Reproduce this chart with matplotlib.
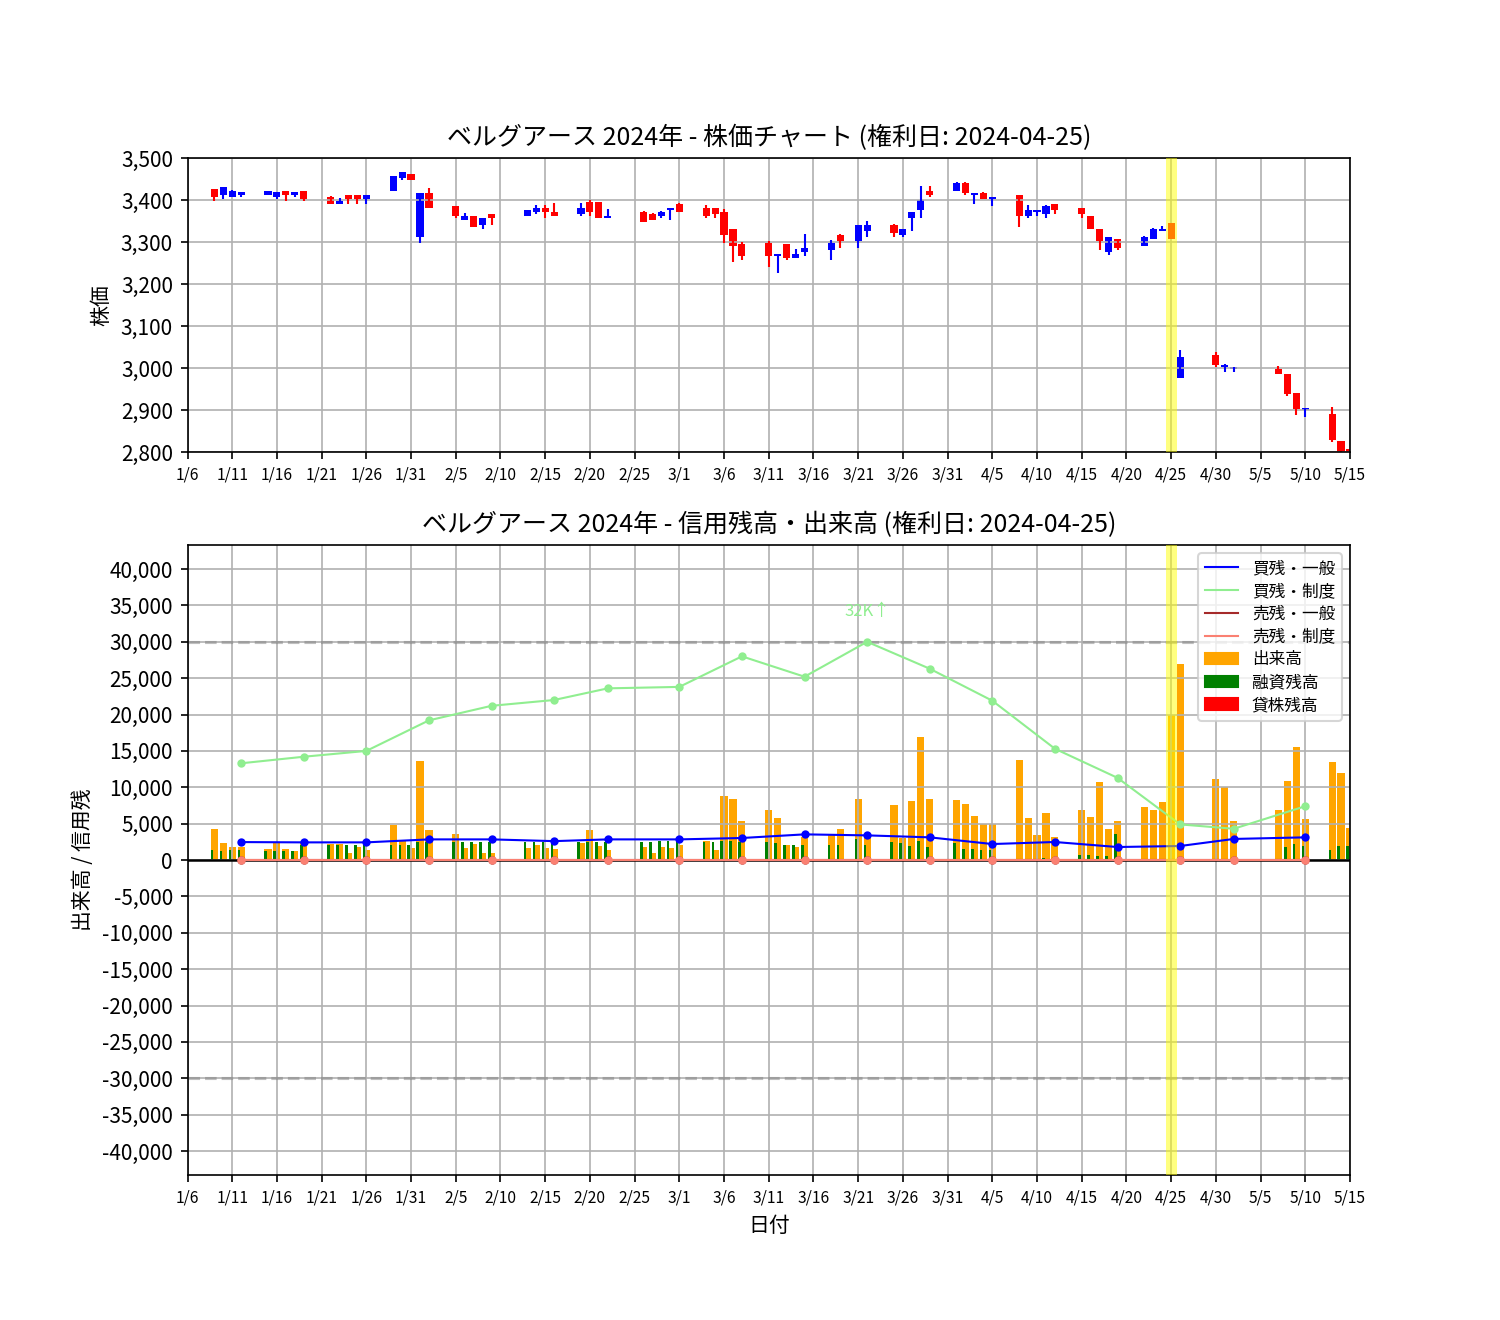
import matplotlib
matplotlib.use("Agg")
import matplotlib.pyplot as plt
import matplotlib.dates as mdates
from matplotlib.lines import Line2D
from matplotlib.patches import Patch
import numpy as np
import pandas as pd

plt.rcParams['font.family'] = ['Noto Sans CJK JP', 'DejaVu Sans']

## Daily data (trading days)
days = ["2024-01-09", "2024-01-10", "2024-01-11", "2024-01-12", "2024-01-15", "2024-01-16", "2024-01-17",
        "2024-01-18", "2024-01-19", "2024-01-22", "2024-01-23", "2024-01-24", "2024-01-25", "2024-01-26",
        "2024-01-29", "2024-01-30", "2024-01-31",
        "2024-02-01", "2024-02-02", "2024-02-05", "2024-02-06", "2024-02-07", "2024-02-08", "2024-02-09",
        "2024-02-13", "2024-02-14", "2024-02-15", "2024-02-16", "2024-02-19", "2024-02-20", "2024-02-21",
        "2024-02-22", "2024-02-26", "2024-02-27", "2024-02-28", "2024-02-29",
        "2024-03-01", "2024-03-04", "2024-03-05", "2024-03-06", "2024-03-07", "2024-03-08", "2024-03-11",
        "2024-03-12", "2024-03-13", "2024-03-14", "2024-03-15", "2024-03-18", "2024-03-19", "2024-03-21",
        "2024-03-22", "2024-03-25", "2024-03-26", "2024-03-27", "2024-03-28", "2024-03-29",
        "2024-04-01", "2024-04-02", "2024-04-03", "2024-04-04", "2024-04-05", "2024-04-08", "2024-04-09",
        "2024-04-10", "2024-04-11", "2024-04-12", "2024-04-15", "2024-04-16", "2024-04-17", "2024-04-18",
        "2024-04-19", "2024-04-22", "2024-04-23", "2024-04-24", "2024-04-25", "2024-04-26", "2024-04-30",
        "2024-05-01", "2024-05-02", "2024-05-07", "2024-05-08", "2024-05-09", "2024-05-10", "2024-05-13",
        "2024-05-14", "2024-05-15"]

opens = [3426, 3413, 3408, 3413, 3413, 3408, 3422, 3413, 3422, 3407, 3391, 3412, 3412, 3402, 3422, 3453, 3462,
         3311, 3417, 3386, 3352, 3362, 3340, 3366, 3362, 3371, 3381, 3371, 3367, 3395, 3395, 3358, 3371, 3367, 3362, 3376,
         3390, 3381, 3381, 3371, 3331, 3295, 3298, 3267, 3295, 3262, 3276, 3281, 3317, 3302, 3326, 3341, 3317, 3357, 3376, 3421,
         3421, 3441, 3412, 3417, 3402, 3412, 3362, 3371, 3366, 3390, 3381, 3362, 3330, 3275, 3306, 3290, 3306, 3326, 3345, 2976, 3030,
         3002, 2998, 2998, 2986, 2940, 2900, 2890, 2826, 2807]
highs = [3426, 3431, 3424, 3419, 3422, 3418, 3422, 3420, 3422, 3410, 3405, 3412, 3412, 3412, 3458, 3467, 3462,
         3417, 3429, 3386, 3369, 3362, 3357, 3366, 3376, 3388, 3388, 3393, 3393, 3400, 3395, 3379, 3374, 3369, 3374, 3381,
         3393, 3388, 3381, 3379, 3331, 3300, 3302, 3271, 3295, 3283, 3319, 3305, 3319, 3341, 3350, 3343, 3331, 3371, 3433, 3433,
         3443, 3443, 3417, 3419, 3407, 3412, 3388, 3376, 3388, 3390, 3381, 3362, 3330, 3311, 3306, 3314, 3333, 3338, 3345, 3042, 3037,
         3010, 3002, 3004, 2986, 2940, 2905, 2906, 2826, 2807]
lows = [3398, 3403, 3408, 3408, 3413, 3403, 3398, 3408, 3398, 3391, 3391, 3391, 3391, 3391, 3422, 3448, 3448,
        3297, 3381, 3357, 3352, 3335, 3330, 3340, 3362, 3366, 3357, 3362, 3363, 3363, 3358, 3358, 3348, 3353, 3358, 3353,
        3371, 3358, 3358, 3298, 3253, 3257, 3241, 3226, 3257, 3262, 3266, 3257, 3286, 3286, 3312, 3312, 3312, 3326, 3357, 3407,
        3421, 3413, 3391, 3402, 3386, 3335, 3357, 3362, 3357, 3366, 3357, 3330, 3280, 3270, 3280, 3290, 3306, 3326, 3306, 2976, 3002,
        2990, 2990, 2986, 2933, 2888, 2883, 2824, 2780, 2770]
closes = [3408, 3431, 3422, 3418, 3422, 3418, 3413, 3418, 3403, 3391, 3398, 3402, 3402, 3412, 3458, 3467, 3448,
          3417, 3381, 3362, 3362, 3335, 3357, 3357, 3376, 3381, 3371, 3362, 3381, 3372, 3358, 3362, 3348, 3353, 3371, 3381,
          3371, 3362, 3367, 3317, 3291, 3267, 3267, 3271, 3262, 3271, 3286, 3298, 3302, 3341, 3341, 3321, 3331, 3371, 3400, 3412,
          3441, 3417, 3417, 3402, 3407, 3362, 3376, 3376, 3386, 3376, 3366, 3330, 3302, 3311, 3285, 3311, 3330, 3330, 3306, 3025, 3007,
          3007, 3002, 2986, 2938, 2902, 2905, 2829, 2795, 2775]

volume = [4270, 2340, 1790, 1800, 1500, 2340, 1500, 1240, 2400, 2200, 2200, 960, 1790, 1380, 4800, 2750, 1650,
          13600, 4130, 3580, 1650, 2200, 960, 960, 1650, 2060, 1650, 1510, 2340, 4130, 1930, 1380, 1790, 960, 1790, 1650,
          2060, 2600, 1380, 8800, 8400, 5370, 6880, 5780, 2060, 1790, 3170, 3440, 4270, 8400, 3200, 7570, 3030, 8100, 16900, 8400,
          8260, 7700, 6060, 5000, 5000, 13760, 5780, 3440, 6470, 3170, 6880, 5920, 10700, 4270, 5370, 7300, 6880, 7980, 19900, 26900, 11100,
          10000, 5370, 6880, 10870, 15550, 5640, 13500, 11970, 4400]
margin = [1380, 1240, 1380, 1380, 1240, 1240, 1240, 1240, 2000, 2060, 2060, 2060, 2060, 2060, 2060, 2060, 2060,
          2480, 2480, 2480, 2480, 2480, 2480, 2480, 2480, 2480, 2480, 2480, 2480, 2480, 2480, 2480, 2480, 2480, 2600, 2600,
          2600, 2480, 2480, 2600, 2600, 2480, 2480, 2340, 2060, 2060, 2060, 2060, 2060, 2900, 2060, 2480, 2340, 1930, 2600, 1790,
          2340, 1510, 1510, 1380, 1380, 0, 0, 0, 280, 0, 690, 690, 550, 550, 3580, 0, 0, 0, 0, 0, 0,
          0, 0, 0, 1790, 2200, 1930, 1380, 1930, 1930]
lending = [0] * len(days)

## Weekly margin balance data
weeks = ["2024-01-12", "2024-01-19", "2024-01-26", "2024-02-02", "2024-02-09", "2024-02-16", "2024-02-22",
         "2024-03-01", "2024-03-08", "2024-03-15", "2024-03-22", "2024-03-29", "2024-04-05", "2024-04-12",
         "2024-04-19", "2024-04-26", "2024-05-02", "2024-05-10"]
buy_general = [2470, 2430, 2430, 2840, 2840, 2600, 2840, 2840, 3030, 3530, 3390, 3120, 2200, 2480, 1790, 1930, 2900, 3120]
buy_system = [13300, 14200, 15000, 19200, 21200, 22000, 23600, 23800, 28000, 25200, 32000, 26300, 21900, 15300, 11300, 4900, 4300, 7400]
sell_general = [0] * len(weeks)
sell_system = [0] * len(weeks)

record_date = "2024-04-25"
cap = 30000

x = mdates.date2num(pd.to_datetime(days))
xw = mdates.date2num(pd.to_datetime(weeks))
xr = mdates.date2num(pd.Timestamp(record_date))
opens, highs, lows, closes = map(np.array, (opens, highs, lows, closes))

x0 = x[0] - 3
x1 = x[-1]
ticks = np.arange(x0, x1 + 1, 5)

def fmt_date(v, pos=None):
    d = mdates.num2date(v)
    return f"{d.month}/{d.day}"

fig = plt.figure(figsize=(10, 8.8), dpi=150)
ax1 = fig.add_axes([0.125, 0.6576, 0.775, 0.2227])
ax2 = fig.add_axes([0.125, 0.1098, 0.775, 0.4773])

## Candles
up = closes >= opens
cols = np.where(up, "blue", "red")
ax1.vlines(x, lows, highs, colors=cols, linewidth=1)
ax1.bar(x, closes - opens, bottom=opens, width=0.8, color=cols)
ax1.axvspan(xr - 0.6, xr + 0.6, color="yellow", alpha=0.5, zorder=5, lw=0)
ax1.set_ylim(2800, 3500)
ax1.set_ylabel("株価", fontsize=10)
ax1.set_title("ベルグアース 2024年 - 株価チャート (権利日: 2024-04-25)", fontsize=12)

## Volume and margin
ax2.bar(x, volume, width=0.8, color="orange")
ax2.bar(x - 0.25, margin, width=0.3, color="green")
ax2.bar(x + 0.25, lending, width=0.3, color="red")
ax2.axhline(0, color="black", linewidth=1.2)
ax2.axhline(cap, color="gray", linestyle="--", alpha=0.5)
ax2.axhline(-cap, color="gray", linestyle="--", alpha=0.5)
bs = np.minimum(buy_system, cap)
ax2.plot(xw, buy_general, "o-", color="blue", lw=1, ms=3)
ax2.plot(xw, bs, "o-", color="lightgreen", lw=1, ms=3)
ax2.plot(xw, sell_general, "o-", color="brown", lw=1, ms=3)
ax2.plot(xw, sell_system, "o-", color="salmon", lw=1, ms=3)
for xi, v in zip(xw, buy_system):
    if v > cap:
        ax2.text(xi, cap * 1.10, f"{v / 1000:.0f}K↑", color="lightgreen", fontsize=8, ha="center", va="bottom")
ax2.axvspan(xr - 0.6, xr + 0.6, color="yellow", alpha=0.5, zorder=5, lw=0)
ax2.set_ylim(-43300, 43300)
ax2.set_yticks(np.arange(-40000, 40001, 5000))
ax2.set_ylabel("出来高 / 信用残", fontsize=10)
ax2.set_xlabel("日付", fontsize=10)
ax2.set_title("ベルグアース 2024年 - 信用残高・出来高 (権利日: 2024-04-25)", fontsize=12)

handles = [Line2D([], [], color="blue", lw=1), Line2D([], [], color="lightgreen", lw=1),
           Line2D([], [], color="brown", lw=1), Line2D([], [], color="salmon", lw=1),
           Patch(color="orange"), Patch(color="green"), Patch(color="red")]
labels = ["買残・一般", "買残・制度", "売残・一般", "売残・制度", "出来高", "融資残高", "貸株残高"]
ax2.legend(handles, labels, loc="upper right", fontsize=8, labelspacing=0.35)

for ax in (ax1, ax2):
    ax.set_xlim(x0, x1)
    ax.set_xticks(ticks)
    ax.xaxis.set_major_formatter(plt.FuncFormatter(fmt_date))
    ax.yaxis.set_major_formatter(plt.FuncFormatter(lambda v, p: f"{v:,.0f}"))
    ax.tick_params(axis="x", labelsize=7.5)
    ax.tick_params(axis="y", labelsize=10)
    ax.grid(True)

fig.savefig("out.png", dpi=150)
plt.close('all')
